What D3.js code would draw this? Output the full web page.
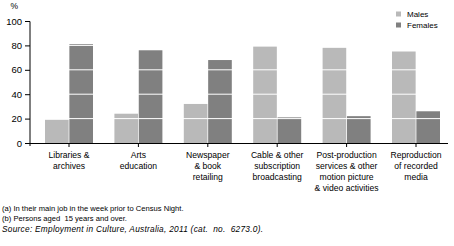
<!DOCTYPE html>
<html>
<head>
<meta charset="utf-8">
<script src="https://cdn.jsdelivr.net/npm/d3@7"></script>
<style>
  body { margin: 0; background: #fff; }
  svg { display: block; font-family: "Liberation Sans", Arial, sans-serif; }
</style>
</head>
<body>
<svg id="chart" width="454" height="246"></svg>
<script>
const categories = [
  ["Libraries &", "archives"],
  ["Arts", "education"],
  ["Newspaper", "& book", "retailing"],
  ["Cable & other", "subscription", "broadcasting"],
  ["Post-production", "services & other", "motion picture", "& video activities"],
  ["Reproduction", "of recorded", "media"]
]
const seriesNames = ["Males", "Females"]
const males = [19, 24, 32, 79, 78, 75]
const females = [81, 76, 68, 21, 22, 26]
const yTicks = [0, 20, 40, 60, 80, 100]
const footnotes = [
  "(a) In their main job in the week prior to Census Night.",
  "(b) Persons aged  15 years and over."
]
const source = "Source: Employment in Culture, Australia, 2011 (cat.  no.  6273.0)."

const colors = ["#b9b9b9", "#808080"]
const svg = d3.select("#chart")

const y = d3.scaleLinear().domain([0, 100]).range([143, 21])
const x = d3.scaleBand().domain(d3.range(categories.length)).range([34.3, 450.7])
const xSub = d3.scaleBand().domain([0, 1]).range([x.bandwidth() / 2 - 24, x.bandwidth() / 2 + 24]).paddingInner(0.03)

// bars
const groups = svg.append("g").selectAll("g")
  .data(categories.map((c, i) => [males[i], females[i]]))
  .join("g")
  .attr("transform", (d, i) => `translate(${x(i)},0)`)

groups.selectAll("rect")
  .data(d => d)
  .join("rect")
  .attr("x", (d, j) => xSub(j))
  .attr("width", xSub.bandwidth())
  .attr("y", d => y(d))
  .attr("height", d => y(0) - y(d))
  .attr("fill", (d, j) => colors[j])

// white gridlines over the bars
svg.append("g").selectAll("line")
  .data(yTicks.filter(t => t > 0 && t < 100))
  .join("line")
  .attr("x1", 31).attr("x2", 448)
  .attr("y1", d => y(d)).attr("y2", d => y(d))
  .attr("stroke", "#fff").attr("stroke-width", 1)

// y axis
svg.append("g")
  .attr("transform", "translate(30,0)")
  .call(d3.axisLeft(y).tickValues(yTicks).tickSize(5).tickPadding(3))
  .call(g => g.selectAll("text").attr("font-size", 9.5).attr("fill", "#000").attr("font-family", "Liberation Sans, Arial, sans-serif"))
  .call(g => g.selectAll("line, path").attr("stroke", "#000"))
  .call(g => g.select(".domain").attr("d", "M-5,21.5H0V146"))

svg.append("text").attr("x", 10.5).attr("y", 8.5).attr("font-size", 8.5).text("%")

// x axis
svg.append("line").attr("x1", 30).attr("x2", 448).attr("y1", 143.5).attr("y2", 143.5).attr("stroke", "#000")
svg.append("g").selectAll("line")
  .data(categories)
  .join("line")
  .attr("x1", (d, i) => x(i) + x.bandwidth() / 2)
  .attr("x2", (d, i) => x(i) + x.bandwidth() / 2)
  .attr("y1", 143).attr("y2", 147)
  .attr("stroke", "#000")

// category labels
svg.append("g").selectAll("text")
  .data(categories)
  .join("text")
  .attr("x", (d, i) => x(i) + x.bandwidth() / 2)
  .attr("text-anchor", "middle")
  .attr("font-size", 8.6)
  .selectAll("tspan")
  .data(d => d)
  .join("tspan")
  .attr("x", function () { return this.parentNode.getAttribute("x") })
  .attr("y", (d, k) => 158.3 + k * 10.8)
  .text(d => d)

// legend
const legend = svg.append("g").selectAll("g")
  .data(seriesNames)
  .join("g")
  .attr("transform", (d, i) => `translate(396,${14 + i * 11})`)
legend.append("rect").attr("x", 0).attr("y", -2.5).attr("width", 5).attr("height", 5).attr("fill", (d, i) => colors[i])
legend.append("text").attr("x", 11).attr("y", 3).attr("font-size", 8).text(d => d)

// notes
svg.append("g").selectAll("text")
  .data(footnotes)
  .join("text")
  .attr("x", 2)
  .attr("y", (d, i) => 211 + i * 9.6)
  .attr("font-size", 7.6)
  .attr("xml:space", "preserve")
  .text(d => d)

svg.append("text").attr("x", 2).attr("y", 232).attr("font-size", 8.3)
  .attr("font-style", "italic").attr("xml:space", "preserve")
  .attr("textLength", 261).attr("lengthAdjust", "spacing")
  .text(source)
</script>
</body>
</html>
